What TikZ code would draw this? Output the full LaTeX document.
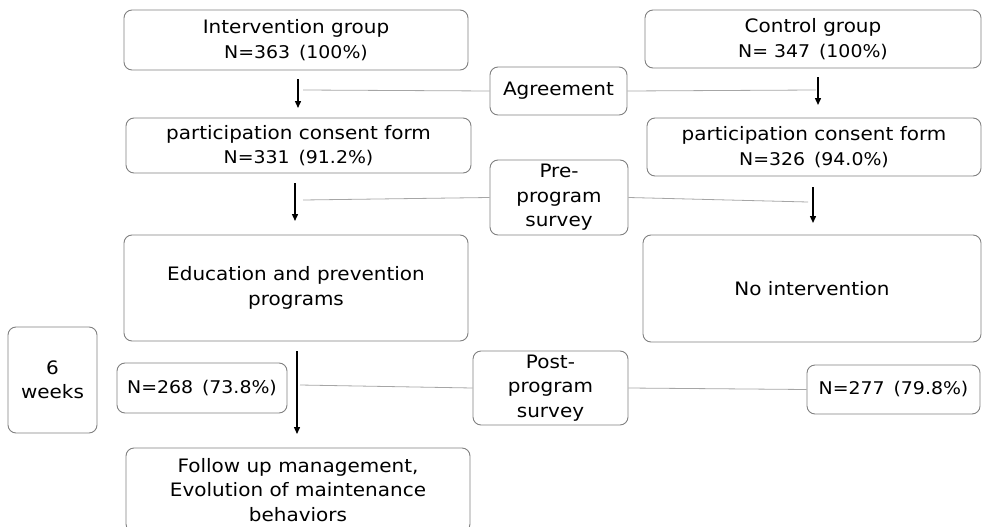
\documentclass[tikz,border=0pt]{standalone}
\usepackage{fontspec}
\setmainfont{DejaVu Sans}[FakeStretch=1.08]
\newcommand{\numline}{\fontsize{17.5}{24.5}\selectfont}
\usetikzlibrary{arrows.meta}
\begin{document}
\begin{tikzpicture}[x=1pt,y=-1pt,
  box/.style={draw=boxgray, line width=0.9pt, rounded corners=8pt, align=center, inner sep=0pt,
     font=\fontsize{18.5}{24.5}\selectfont, text=black},
  conn/.style={draw=linegray, line width=0.8pt},
  arr/.style={draw=black, line width=1.4pt, -{Triangle[length=7pt,width=6pt]}}]
\definecolor{boxgray}{HTML}{808080}
\definecolor{linegray}{HTML}{A6A6A6}
\useasboundingbox (0,0) rectangle (982,527);
% boxes
\node[box, minimum width=344, minimum height=60] (ig) at (296,40) {Intervention group\\{\numline N=363 \,(100\%)}};
\node[box, minimum width=336, minimum height=58] (cg) at (813,39) {Control group\\{\numline N= 347 \,(100\%)}};
\node[box, minimum width=137, minimum height=48] (agr) at (558.5,91) {Agreement};
\node[box, minimum width=345, minimum height=55] (pi) at (298.5,145.5) {participation consent form\\{\numline N=331 \,(91.2\%)}};
\node[box, minimum width=334, minimum height=58] (pc) at (814,147) {participation consent form\\{\numline N=326 \,(94.0\%)}};
\node[box, minimum width=138, minimum height=75] (pre) at (559,197.5) {Pre-\\program\\survey};
\node[box, minimum width=344, minimum height=106] (edu) at (296,288) {Education and prevention\\programs};
\node[box, minimum width=338, minimum height=107] (noi) at (812,288.5) {No intervention};
\node[box, minimum width=89, minimum height=106] (wk) at (52.5,380) {6\\weeks};
\node[box, minimum width=170, minimum height=50, font=\numline] (n268) at (202,388) {N=268 \,(73.8\%)};
\node[box, minimum width=155, minimum height=74] (post) at (550.5,388) {Post-\\program\\survey};
\node[box, minimum width=173, minimum height=49, font=\numline] (n277) at (893.5,389.5) {N=277 \,(79.8\%)};
\node[box, minimum width=344, minimum height=84] (fu) at (298,490) {Follow up management,\\Evolution of maintenance\\behaviors};
% arrows
\coordinate (a1s) at (298,79); \coordinate (a1e) at (298,108);
\coordinate (a2s) at (818,77); \coordinate (a2e) at (818,105);
\coordinate (a3s) at (295,183); \coordinate (a3e) at (295,221);
\coordinate (a4s) at (813,187); \coordinate (a4e) at (813,223);
\coordinate (a5s) at (297,351); \coordinate (a5e) at (297,434);
\draw[arr] (a1s) -- (a1e);
\draw[arr] (a2s) -- (a2e);
\draw[arr] (a3s) -- (a3e);
\draw[arr] (a4s) -- (a4e);
\draw[arr] (a5s) -- (a5e);
% connectors
\coordinate (k1) at (303,90); \coordinate (k2) at (816,90);
\coordinate (k3) at (303,200); \coordinate (k4) at (808,202);
\coordinate (k5) at (300,385);
\draw[conn] (k1) -- (agr.west);
\draw[conn] (agr.east) -- (k2);
\draw[conn] (k3) -- (pre.west);
\draw[conn] (pre.east) -- (k4);
\draw[conn] (k5) -- (post.west);
\draw[conn] (post.east) -- (n277.west);
\end{tikzpicture}
\end{document}
